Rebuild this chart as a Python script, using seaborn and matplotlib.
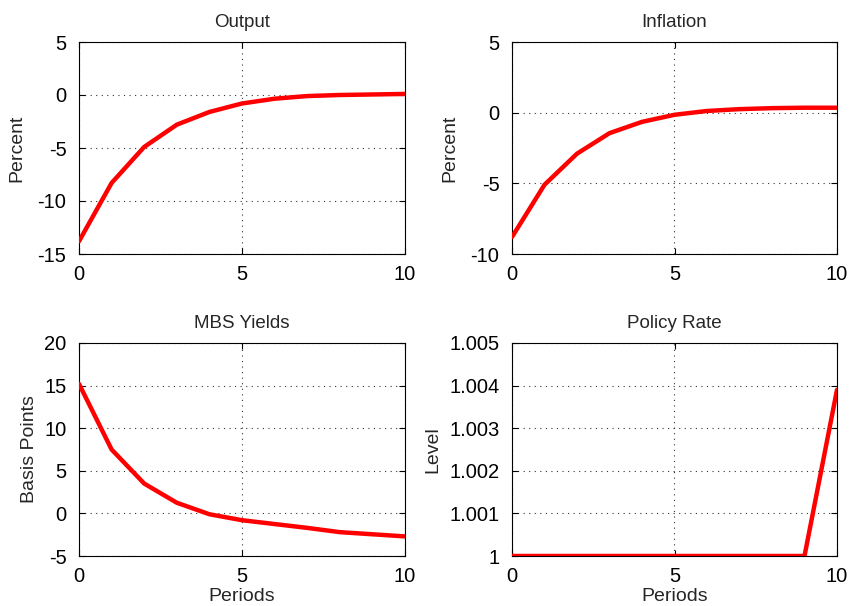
import numpy as np
import pandas as pd
import matplotlib
matplotlib.use("Agg")
import matplotlib.pyplot as plt
import seaborn as sns

periods = list(range(11))
output = [-13.8, -8.3, -4.9, -2.8, -1.6, -0.8, -0.35, -0.1, 0.0, 0.05, 0.1]
inflation = [-8.8, -5.1, -2.9, -1.45, -0.65, -0.15, 0.12, 0.25, 0.32, 0.35, 0.35]
mbs = [15.2, 7.5, 3.5, 1.25, -0.1, -0.8, -1.25, -1.7, -2.2, -2.45, -2.7]
policy = [1.0, 1.0, 1.0, 1.0, 1.0, 1.0, 1.0, 1.0, 1.0, 1.0, 1.0039]

titles = ["Output", "Inflation", "MBS Yields", "Policy Rate"]
ylabels = ["Percent", "Percent", "Basis Points", "Level"]
series = [output, inflation, mbs, policy]
ylims = [(-15, 5), (-10, 5), (-5, 20), (1.0, 1.005)]
yticks = [[-15, -10, -5, 0, 5], [-10, -5, 0, 5], [-5, 0, 5, 10, 15, 20],
          [1.0, 1.001, 1.002, 1.003, 1.004, 1.005]]
yticklabels = [["-15", "-10", "-5", "0", "5"], ["-10", "-5", "0", "5"],
               ["-5", "0", "5", "10", "15", "20"],
               ["1", "1.001", "1.002", "1.003", "1.004", "1.005"]]

sns.set_style("ticks")
plt.rcParams['font.family'] = ['Liberation Sans', 'DejaVu Sans']
plt.rcParams['font.size'] = 12

fig = plt.figure(figsize=(8.49, 6.06), dpi=100)
W, H = 849, 606
boxes = [(79, 42, 405, 254), (512, 42, 837, 254),
         (79, 343, 405, 556), (512, 343, 837, 556)]
ylabel_x = [-0.163, -0.166, -0.126, -0.218]

for i in range(4):
    x0, y0, x1, y1 = boxes[i]
    ax = fig.add_axes([x0 / W, 1 - y1 / H, (x1 - x0) / W, (y1 - y0) / H])
    df = pd.DataFrame({"Periods": periods, "val": series[i]})
    sns.lineplot(data=df, x="Periods", y="val", ax=ax, color="#ff0000",
                 linewidth=3.2, zorder=3)
    ax.set_xlim(0, 10)
    ax.set_ylim(*ylims[i])
    ax.set_xticks([0, 5, 10])
    ax.set_xticklabels(["0", "5", "10"])
    ax.set_yticks(yticks[i])
    ax.set_yticklabels(yticklabels[i])
    ax.grid(True, linestyle=(0, (1, 4)), color="black", linewidth=0.8, alpha=0.8)
    ax.tick_params(direction="in", top=True, right=True, length=4, width=0.8,
                   labelsize=14.5, colors="black")
    ax.tick_params(axis="x", pad=8)
    ax.tick_params(axis="y", pad=9)
    for s in ax.spines.values():
        s.set_linewidth(0.8)
        s.set_color("black")
    ax.set_title(titles[i], fontsize=13.5, pad=11)
    ax.set_ylabel(ylabels[i], fontsize=14)
    ax.yaxis.set_label_coords(ylabel_x[i], 0.5)
    if i >= 2:
        ax.set_xlabel("Periods", fontsize=14)
        ax.xaxis.set_label_coords(0.5, -0.148)
    else:
        ax.set_xlabel("")

fig.savefig("out.png", dpi=100, facecolor="white")
